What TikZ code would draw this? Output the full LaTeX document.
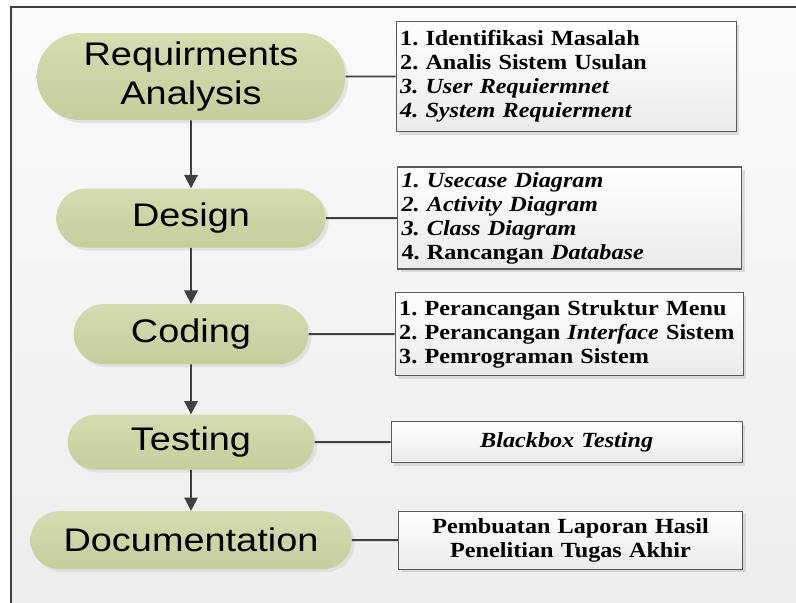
\documentclass[tikz,border=0pt]{standalone}
\usepackage{fontspec}
\setmainfont{Liberation Serif}[FakeStretch=1.12]
\newfontfamily\phasefont{Liberation Sans}[FakeStretch=1.16]
\usetikzlibrary{positioning, arrows.meta, shapes.misc, shadows}
\definecolor{phasetop}{HTML}{D4DCB1}
\definecolor{phasebot}{HTML}{C5CE9B}
\definecolor{linedark}{HTML}{404040}
\definecolor{boxline}{HTML}{5A5A5A}
\frenchspacing

\begin{document}
\begin{tikzpicture}[
    phase/.style={rounded rectangle, top color=phasetop, bottom color=phasebot,
                  inner sep=2pt, align=center,
                  font={\phasefont\fontsize{24.5}{29}\selectfont},
                  drop shadow={shadow xshift=2.25pt, shadow yshift=-2.25pt, fill=black!18}},
    task/.style={rectangle, draw=boxline, line width=0.9pt, top color=white,
                 bottom color=white!92!black, inner xsep=3pt, inner ysep=2pt,
                 font={\bfseries\fontsize{16.2}{18}\selectfont},
                 drop shadow={shadow xshift=2.25pt, shadow yshift=-2.25pt, fill=black!25}},
    arrow/.style={-{Triangle[length=10pt, width=10pt]}, line width=1.4pt, linedark},
    link/.style={line width=1.4pt, linedark}
  ]
  \useasboundingbox (0,0) rectangle (597pt,-452.25pt);
  \fill[top color=white!98!black, bottom color=white!93!black] (8.25pt,-5.25pt) rectangle (600pt,-455pt);
  \draw[line width=1.8pt, linedark] (8.25pt,-455pt) -- (8.25pt,-5.25pt) -- (600pt,-5.25pt);

  \node[phase, minimum width=235.5pt, minimum height=65.25pt] (req) at (143.25pt,-57.4pt) {Requirments\\Analysis};
  \node[phase, minimum width=206pt, minimum height=44.25pt, below=51pt of req] (design) {Design};
  \node[phase, minimum width=180pt, minimum height=45pt, below=42pt of design] (coding) {Coding};
  \node[phase, minimum width=189pt, minimum height=41.25pt, below=37.5pt of coding] (testing) {Testing};
  \node[phase, minimum width=245pt, minimum height=43.5pt, below=30.75pt of testing] (docu) {Documentation};

  \node[task, text width=249pt, align=left, minimum height=82.5pt, right=37.5pt of req] (reqtask)
    {1. Identifikasi Masalah\\2. Analis Sistem Usulan\\\textit{3. User Requiermnet}\\\textit{4. System Requierment}};
  \node[task, text width=252pt, align=left, minimum height=76.5pt, right=53.25pt of design] (designtask)
    {\textit{1. Usecase Diagram}\\\textit{2. Activity Diagram}\\\textit{3. Class Diagram}\\4. Rancangan \textit{Database}};
  \node[task, text width=255pt, align=left, minimum height=62.25pt, right=64.5pt of coding] (codingtask)
    {1. Perancangan Struktur Menu\\2. Perancangan \textit{Interface} Sistem\\3. Pemrograman Sistem};
  \node[task, text width=257.25pt, align=center, minimum height=30.75pt, right=57pt of testing] (testingtask)
    {\textit{Blackbox Testing}};
  \node[task, text width=252pt, align=center, minimum height=43.5pt, right=34.5pt of docu] (docutask)
    {Pembuatan Laporan Hasil\\Penelitian Tugas Akhir};

  \draw[arrow] (req) -- (design);
  \draw[arrow] (design) -- (coding);
  \draw[arrow] (coding) -- (testing);
  \draw[arrow] (testing) -- (docu);

  \draw[link] (req) -- (reqtask);
  \draw[link] (design) -- (designtask);
  \draw[link] (coding) -- (codingtask);
  \draw[link] (testing) -- (testingtask);
  \draw[link] (docu) -- (docutask);
\end{tikzpicture}
\end{document}
